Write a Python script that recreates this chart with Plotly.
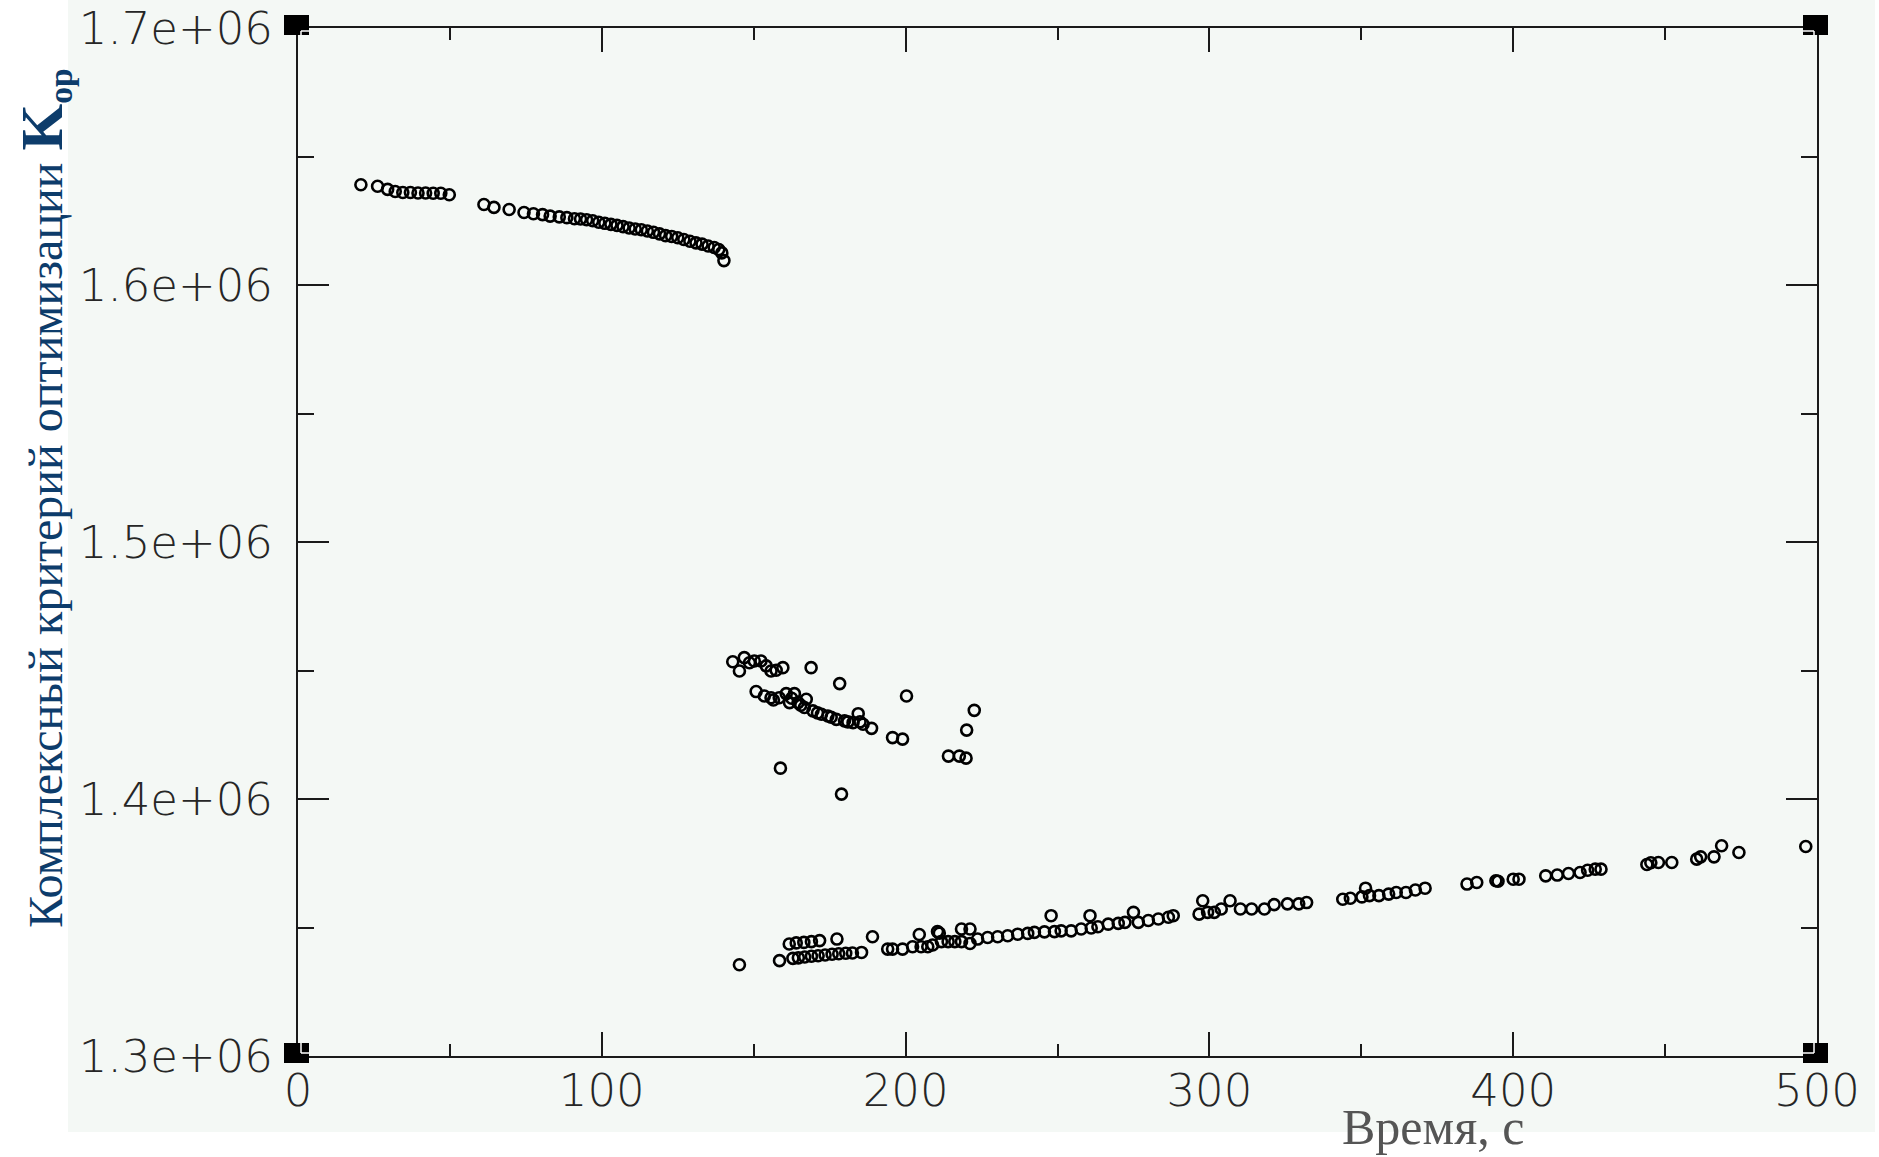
import plotly.graph_objects as go

# --- data: time (s) and complex optimisation criterion K_op ---
# first regime
time_a = [20.7, 26.2, 29.5, 32.0, 34.5, 37.0, 39.5, 42.0, 44.5, 47.0, 49.8,
          61.2, 64.5, 69.5, 74.4, 77.5, 80.5, 83.0, 86.0, 88.5, 91.0, 93.0,
          95.0, 97.0, 99.0, 101.0, 103.0, 105.0, 107.0, 109.0, 111.0, 113.0,
          115.0, 117.0, 119.0, 121.0, 123.0, 125.0, 127.0, 129.0, 131.0,
          133.0, 135.0, 137.0, 138.5, 139.5, 140.2]
crit_a = [1.6390, 1.6384, 1.6372, 1.6364, 1.6360, 1.6360, 1.6358, 1.6358,
          1.6357, 1.6357, 1.6351, 1.6313, 1.6302, 1.6294, 1.6282, 1.6277,
          1.6274, 1.6268, 1.6265, 1.6262, 1.6258, 1.6257, 1.6254, 1.6250,
          1.6244, 1.6240, 1.6236, 1.6232, 1.6227, 1.6222, 1.6218, 1.6215,
          1.6210, 1.6205, 1.6199, 1.6192, 1.6189, 1.6184, 1.6177, 1.6170,
          1.6164, 1.6159, 1.6152, 1.6146, 1.6138, 1.6125, 1.6095]

# second regime
time_b = [143.1, 145.3, 146.9, 148.6, 150.2, 152.4, 154.1, 155.7, 157.4,
          159.6, 168.9, 178.3, 200.3, 150.8, 153.5, 155.7, 156.5, 158.4,
          160.7, 162.5, 163.4, 161.8, 164.6, 165.5, 167.3, 166.7, 169.5,
          171.0, 172.3, 174.4, 175.5, 177.2, 179.9, 181.0, 182.7, 184.4,
          185.0, 186.0, 188.8, 195.7, 199.0, 222.6, 220.1, 214.1, 217.7,
          219.9, 158.8, 178.9]
crit_b = [1.4534, 1.4498, 1.4550, 1.4530, 1.4537, 1.4537, 1.4518, 1.4498,
          1.4501, 1.4511, 1.4511, 1.4449, 1.4401, 1.4418, 1.4401, 1.4394,
          1.4385, 1.4394, 1.4410, 1.4392, 1.4410, 1.4375, 1.4375, 1.4365,
          1.4388, 1.4356, 1.4343, 1.4335, 1.4330, 1.4323, 1.4318, 1.4310,
          1.4304, 1.4300, 1.4297, 1.4332, 1.4300, 1.4291, 1.4275, 1.4239,
          1.4233, 1.4345, 1.4268, 1.4167, 1.4167, 1.4159, 1.4120, 1.4019]

# third regime
time_c = [145.3, 158.5, 161.7, 164.0, 166.5, 169.0, 171.7, 177.4, 189.1,
          162.9, 164.7, 166.8, 169.0, 171.2, 173.5, 175.8, 178.0, 180.3,
          182.5, 185.5, 194.1, 195.7, 199.0, 202.3, 204.5, 205.1, 207.3,
          208.9, 210.5, 211.1, 211.8, 214.0, 216.2, 218.4, 221.2, 218.4,
          221.2, 223.7, 227.0, 230.3, 233.6, 236.9, 240.2, 242.4, 245.7,
          249.0, 251.2, 254.5, 257.8, 261.1, 263.3, 247.9, 260.7, 266.7,
          270.0, 272.2, 275.0, 276.6, 279.9, 283.2, 286.5, 288.1, 296.6,
          297.8, 299.4, 301.6, 303.9, 306.8, 310.2, 313.9, 318.1, 321.3,
          325.7, 329.4, 332.0, 343.9, 346.4, 350.2, 351.4, 352.7, 355.8,
          359.0, 361.5, 364.7, 367.8, 371.0, 384.8, 388.0, 394.3, 395.0,
          400.0, 401.9, 410.7, 414.5, 418.2, 422.0, 424.5, 427.0, 428.9,
          444.0, 445.3, 447.8, 452.2, 460.4, 461.7, 466.1, 468.6, 474.3,
          496.3]
crit_c = [1.3355, 1.3371, 1.3436, 1.3440, 1.3442, 1.3445, 1.3449, 1.3455,
          1.3464, 1.3380, 1.3382, 1.3385, 1.3388, 1.3390, 1.3393, 1.3396,
          1.3398, 1.3400, 1.3401, 1.3403, 1.3416, 1.3416, 1.3416, 1.3425,
          1.3473, 1.3425, 1.3425, 1.3432, 1.3484, 1.3478, 1.3445, 1.3445,
          1.3445, 1.3494, 1.3494, 1.3445, 1.3438, 1.3455, 1.3461, 1.3464,
          1.3468, 1.3474, 1.3477, 1.3481, 1.3483, 1.3484, 1.3487, 1.3487,
          1.3494, 1.3498, 1.3503, 1.3546, 1.3546, 1.3513, 1.3516, 1.3520,
          1.3559, 1.3520, 1.3527, 1.3533, 1.3540, 1.3546, 1.3552, 1.3604,
          1.3559, 1.3559, 1.3572, 1.3604, 1.3572, 1.3572, 1.3572, 1.3589,
          1.3592, 1.3592, 1.3597, 1.3610, 1.3614, 1.3619, 1.3653, 1.3624,
          1.3624, 1.3630, 1.3636, 1.3636, 1.3646, 1.3653, 1.3669, 1.3675,
          1.3682, 1.3680, 1.3688, 1.3688, 1.3701, 1.3704, 1.3710, 1.3714,
          1.3723, 1.3727, 1.3727, 1.3745, 1.3752, 1.3753, 1.3753, 1.3766,
          1.3775, 1.3775, 1.3818, 1.3792, 1.3815]

SCALE = 1e6  # criterion values above are in millions

x_tick_vals = [0, 100, 200, 300, 400, 500]
x_tick_text = ["0", "100", "200", "300", "400", "500"]
y_tick_vals = [1.3e6, 1.4e6, 1.5e6, 1.6e6, 1.7e6]
y_tick_text = ["1.3e+06", "1.4e+06", "1.5e+06", "1.6e+06", "1.7e+06"]
x_range = [0, 500]
y_range = [1.3e6, 1.7e6]

PANEL = "#f4f8f5"
AXIS = "#1a1a1a"

fig = go.Figure()
marker = dict(symbol="circle-open", size=11, color="black", line=dict(width=2.6, color="black"))
for t, k in [(time_a, crit_a), (time_b, crit_b), (time_c, crit_c)]:
    fig.add_trace(go.Scatter(x=t, y=[v * SCALE for v in k], mode="markers",
                             marker=marker, showlegend=False, hoverinfo="x+y"))

tick_font = dict(family="DejaVu Sans", size=45, color="#262626", weight=200)

fig.update_xaxes(range=x_range, tickvals=x_tick_vals, ticktext=x_tick_text,
                 automargin=False,
                 showgrid=False, zeroline=False, showline=True, linecolor=AXIS,
                 linewidth=2, mirror="ticks", ticks="inside", ticklen=24,
                 tickwidth=2, tickcolor=AXIS, tickfont=tick_font,
                 ticklabelstandoff=-6,
                 minor=dict(ticks="inside", ticklen=12, tickwidth=2,
                            tickcolor=AXIS, dtick=50, showgrid=False))
fig.update_yaxes(range=y_range, tickvals=y_tick_vals, ticktext=y_tick_text,
                 automargin=False,
                 showgrid=False, zeroline=False, showline=True, linecolor=AXIS,
                 linewidth=2, mirror="ticks", ticks="inside", ticklen=31,
                 tickwidth=2, tickcolor=AXIS, tickfont=tick_font,
                 ticklabelstandoff=14,
                 minor=dict(ticks="inside", ticklen=16, tickwidth=2,
                            tickcolor=AXIS, dtick=50000, showgrid=False))

shapes = [
    # light panel behind the whole chart
    dict(type="rect", xref="paper", yref="paper", x0=-0.1514, x1=1.0382,
         y0=-0.0739, y1=1.0272, fillcolor=PANEL, line=dict(width=0), layer="below"),
]

# filled corner squares with a thin white inner corner
for cx, cy, dx, dy in [(0, 0, 1, 1), (0, 1, 1, -1), (1, 1, -1, -1), (1, 0, -1, 1)]:
    shapes.append(dict(type="rect", xref="paper", yref="paper",
                       xsizemode="pixel", ysizemode="pixel", xanchor=cx, yanchor=cy,
                       x0=-14, x1=11, y0=-7, y1=13,
                       fillcolor="black", line=dict(width=0), layer="above"))
    ex = 11 if dx > 0 else -14
    ey = 13 if dy > 0 else -7
    shapes.append(dict(type="line", xref="paper", yref="paper",
                       xsizemode="pixel", ysizemode="pixel", xanchor=cx, yanchor=cy,
                       x0=3 * dx, x1=3 * dx, y0=3 * dy, y1=ey,
                       line=dict(color="white", width=1.5), layer="above"))
    shapes.append(dict(type="line", xref="paper", yref="paper",
                       xsizemode="pixel", ysizemode="pixel", xanchor=cx, yanchor=cy,
                       x0=3 * dx, x1=ex, y0=3 * dy, y1=3 * dy,
                       line=dict(color="white", width=1.5), layer="above"))

annotations = [
    dict(text="Комплексный критерий оптимизации "
              "<b><span style='font-size:60px'>K</span><sub>ор</sub></b>",
         xref="paper", yref="paper", x=-0.1672, y=0.5428, textangle=-90,
         xanchor="center", yanchor="middle", showarrow=False,
         font=dict(family="Liberation Serif", size=48, color="#0d3c6b")),
    dict(text="Время, с", xref="paper", yref="paper", x=0.7472, y=-0.069,
         xanchor="center", yanchor="middle", showarrow=False,
         font=dict(family="Liberation Serif", size=50, color="#555555")),
]

fig.update_layout(width=1879, height=1157,
                  margin=dict(l=298, r=62, t=28, b=101, pad=0),
                  paper_bgcolor="white", plot_bgcolor=PANEL,
                  shapes=shapes, annotations=annotations)

fig.write_html("out.html")
